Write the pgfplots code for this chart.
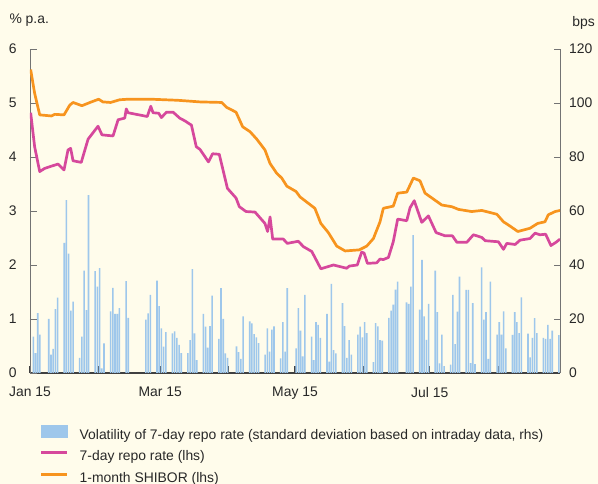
\documentclass[border=0pt]{standalone}
\usepackage{fontspec}
\setmainfont{Liberation Sans}
\usepackage{pgfplots}
\pgfplotsset{compat=1.18}
\usepackage{pgfplotstable}
\definecolor{bg}{RGB}{255,252,235}
\definecolor{barblue}{RGB}{158,199,235}
\definecolor{repo}{RGB}{214,72,156}
\definecolor{shibor}{RGB}{247,148,30}
\definecolor{axisgray}{RGB}{115,115,115}
\definecolor{txt}{RGB}{40,40,40}

% volatility of 7-day repo rate, bps (rhs); d = days since 1 Jan 2015
\pgfplotstableread{
d v
1 13.5
2 7.4
3 22.2
4 14.2
8 20.0
9 6.8
10 8.9
11 23.7
12 27.9
15 48.2
16 64.0
17 44.2
18 23.1
19 26.4
22 5.6
23 13.5
24 37.9
25 23.3
26 65.9
29 37.7
30 32.0
31 38.8
32 1.7
33 11.0
36 22.8
37 31.5
38 21.9
39 21.9
40 24.0
43 34.0
44 20.4
52 19.8
53 22.1
54 28.9
57 34.2
58 24.8
59 16.5
60 9.8
61 15.1
64 14.7
65 15.4
66 13.0
67 10.4
68 7.4
71 7.4
72 12.2
73 38.5
74 14.7
75 4.8
78 21.9
79 17.2
80 9.4
81 17.4
82 28.7
85 12.6
86 31.4
87 20.0
88 7.3
89 5.6
93 9.9
94 7.7
95 5.2
96 21.0
99 19.1
100 18.4
101 14.4
102 13.2
103 11.1
106 6.8
107 16.5
108 7.9
109 16.1
110 17.3
113 5.4
114 18.8
115 7.9
116 31.4
120 9.1
121 24.0
122 15.7
123 6.2
124 28.9
127 13.5
128 4.8
129 18.8
130 17.8
131 13.0
134 21.9
135 4.2
136 33.0
137 8.5
138 7.3
141 25.9
142 17.4
143 5.6
144 12.2
145 6.8
148 14.2
149 17.2
150 13.2
151 18.8
152 14.8
155 4.0
156 18.5
157 17.3
158 12.2
159 12.0
162 20.4
163 23.1
164 25.3
165 30.9
166 33.8
170 26.2
171 25.6
172 32.0
173 51.1
176 23.5
177 41.9
178 21.0
179 12.3
180 25.6
183 37.9
184 22.5
185 3.6
186 14.2
187 2.5
190 3.1
191 28.9
192 10.7
193 22.7
194 35.7
197 30.8
198 30.8
199 3.7
200 25.9
201 3.3
204 39.1
205 19.8
206 22.5
207 5.2
208 33.8
211 14.2
212 18.8
213 14.2
214 22.8
215 9.1
218 14.1
219 22.5
220 18.8
221 14.8
222 28.0
225 14.6
226 5.8
227 13.0
228 20.3
229 14.8
232 13.0
233 12.6
234 17.8
235 12.6
236 15.7
239 14.0
}\bars

% 7-day repo rate, % p.a. (lhs)
\pgfplotstableread{
d v
0.3 4.82
2.1 4.19
4.4 3.73
6.7 3.79
9.7 3.83
12.7 3.87
15.4 3.76
17.2 4.13
18.4 4.16
19.5 3.93
23.2 3.90
26.3 4.33
30.8 4.57
32.6 4.41
37.6 4.39
39.9 4.69
42.9 4.72
43.6 4.89
44.4 4.82
53.1 4.75
54.7 4.94
55.7 4.82
58.3 4.81
59.5 4.73
61.8 4.83
64.8 4.83
67.8 4.72
70.1 4.67
73.1 4.59
75.3 4.19
77.0 4.14
80.8 3.91
82.7 4.06
85.7 4.05
89.4 3.42
93.3 3.24
94.8 3.08
97.8 2.99
101.9 2.98
106.4 2.77
107.6 2.62
108.7 2.89
109.9 2.48
114.7 2.48
116.5 2.40
121.5 2.44
123.8 2.34
127.6 2.25
131.7 1.93
137.4 2.00
143.4 1.94
144.6 1.98
148.2 2.00
150.2 2.24
151.3 2.22
152.8 2.03
157.0 2.04
158.5 2.11
160.0 2.10
162.3 2.14
164.5 2.43
166.5 2.85
170.6 2.82
172.1 3.06
174.0 3.19
177.4 2.79
180.4 2.91
183.9 2.60
188.0 2.54
191.3 2.54
193.3 2.42
197.8 2.42
200.8 2.56
204.6 2.51
206.1 2.45
212.1 2.43
214.4 2.29
215.9 2.40
219.7 2.38
221.9 2.46
226.4 2.49
228.7 2.59
230.9 2.56
233.5 2.57
235.9 2.36
238.5 2.43
240.0 2.48
}\repo

% 1-month SHIBOR, % p.a. (lhs)
\pgfplotstableread{
d v
0.3 5.62
2.1 5.18
4.4 4.78
9.7 4.76
11.2 4.79
15.4 4.78
18.0 4.96
19.5 5.01
23.5 4.95
27.8 5.02
31.1 5.07
33.0 5.02
36.5 5.01
40.6 5.06
44.4 5.07
54.9 5.07
67.0 5.05
77.0 5.02
86.8 5.01
89.0 4.92
93.3 4.83
96.3 4.56
99.6 4.47
102.7 4.33
106.4 4.13
108.7 3.88
111.7 3.70
114.0 3.61
116.3 3.46
120.5 3.36
122.3 3.26
129.0 3.05
131.7 2.77
135.1 2.60
138.9 2.35
142.7 2.26
149.1 2.28
152.5 2.35
155.5 2.49
158.5 2.80
160.0 3.05
164.5 3.09
166.5 3.33
170.6 3.35
173.6 3.61
176.6 3.56
178.9 3.33
182.7 3.22
186.5 3.11
191.0 3.08
194.0 3.03
200.0 2.99
204.6 3.01
211.4 2.94
214.4 2.80
217.4 2.72
220.9 2.62
226.4 2.68
229.9 2.77
233.2 2.80
234.7 2.93
237.8 2.99
240.0 3.01
}\shibor

\newcommand{\fnt}{\fontsize{13.9}{16}\selectfont}

\begin{document}
\begin{tikzpicture}
\fill[bg] (0pt,0pt) rectangle (598pt,484pt);
\useasboundingbox (0pt,0pt) rectangle (598pt,484pt);
\node[anchor=base west, inner sep=0pt, font=\fnt, text=txt] at (9.3pt,460pt) {\% p.a.};
\node[anchor=base east, inner sep=0pt, font=\fnt, text=txt] at (595pt,457pt) {bps};

% right axis: volatility bars
\begin{axis}[
  at={(30pt,111pt)}, anchor=south west,
  scale only axis, width=530pt, height=324pt,
  xmin=0, xmax=240, ymin=0, ymax=120,
  axis y line*=right, axis x line*=bottom,
  y axis line style={draw=axisgray, line width=0.9pt},
  x axis line style={draw=black!75, line width=1.1pt},
  ytick={0,20,...,120},
  xtick={0,31,59,90,120,151,181,212},
  xticklabels={Jan 15,,Mar 15,,May 15,,Jul 15,},
  tick align=inside,
  major tick length=6.5pt,
  ytick style={draw=axisgray, line width=0.9pt},
  xtick style={draw=black!75, line width=1.1pt},
  /pgf/number format/assume math mode=true,
  ticklabel style={font=\fnt, text=txt, inner sep=0pt},
  yticklabel style={xshift=9pt},
  xticklabel style={yshift=-14pt},
  clip=false,
]
\addplot[ybar, bar width=0.72, fill=barblue, draw=none]
  table[x expr=\thisrow{d}+0.5, y=v]{\bars};
\end{axis}

% left axis: rates
\begin{axis}[
  at={(30pt,111pt)}, anchor=south west,
  scale only axis, width=530pt, height=324pt,
  xmin=0, xmax=240, ymin=0, ymax=6,
  axis y line*=left, axis x line=none,
  y axis line style={draw=axisgray, line width=0.9pt},
  ytick={0,1,...,6},
  xtick=\empty,
  tick align=inside,
  major tick length=6.5pt,
  ytick style={draw=axisgray, line width=0.9pt},
  /pgf/number format/assume math mode=true,
  ticklabel style={font=\fnt, text=txt, inner sep=0pt},
  yticklabel style={xshift=-13.3pt},
  legend image code/.code={\draw[#1] (0pt,4.5pt) -- (26pt,4.5pt);},
  legend style={at={(0,0)}, anchor=north west, xshift=10pt, yshift=-52pt,
    draw=none, fill=none, inner sep=0pt, outer sep=0pt,
    font=\fnt, text=txt, row sep=8pt, column sep=11pt,
    nodes={inner sep=0pt, text height=10.5pt, text depth=3pt}},
  legend cell align=left,
]
\addlegendimage{legend image code/.code={\fill[barblue] (0pt,-1.5pt) rectangle (26pt,10.5pt);}}
\addlegendentry{Volatility of 7-day repo rate (standard deviation based on intraday data, rhs)}
\addplot[repo, line width=2.7pt, line join=round, no markers] table[x=d, y=v]{\repo};
\addlegendentry{7-day repo rate (lhs)}
\addplot[shibor, line width=2.7pt, line join=round, no markers] table[x=d, y=v]{\shibor};
\addlegendentry{1-month SHIBOR (lhs)}
\end{axis}
\end{tikzpicture}
\end{document}
